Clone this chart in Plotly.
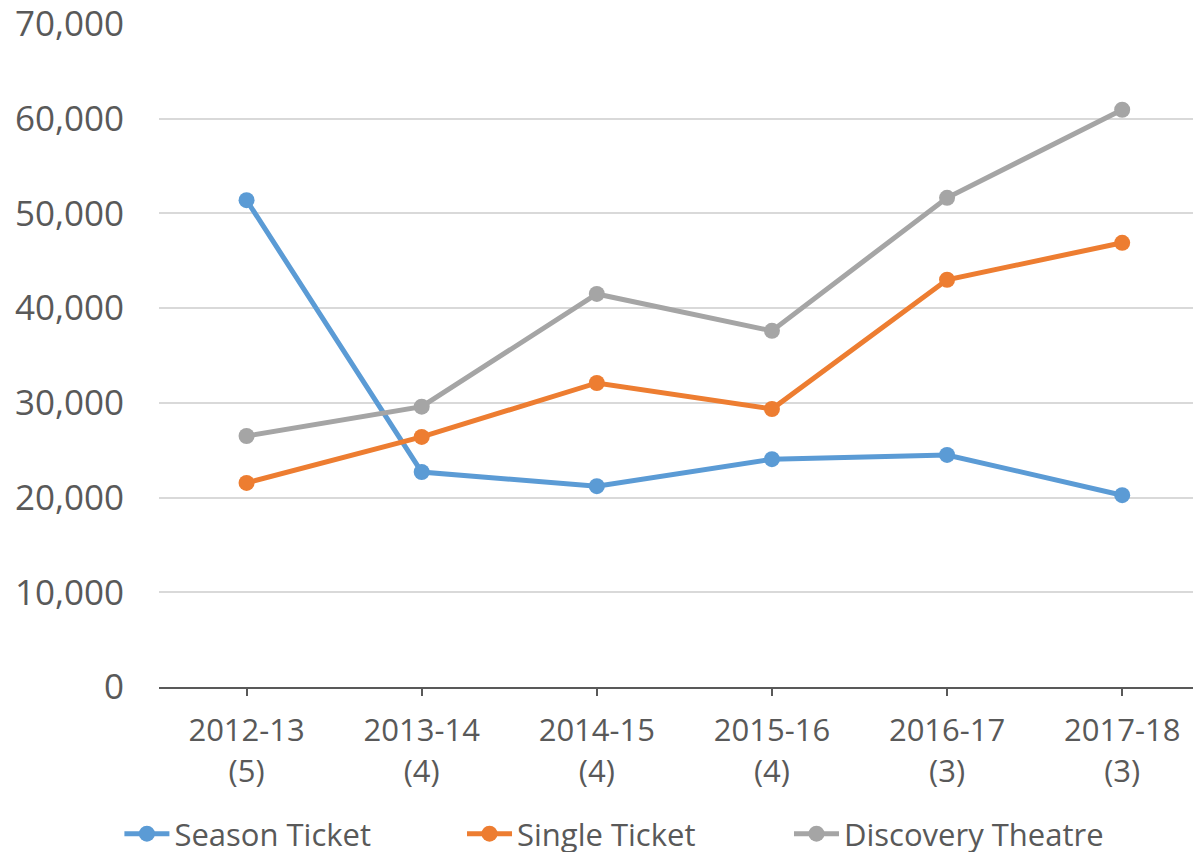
import plotly.graph_objects as go

categories = ["2012-13<br>(5)", "2013-14<br>(4)", "2014-15<br>(4)", "2015-16<br>(4)", "2016-17<br>(3)", "2017-18<br>(3)"]
season_ticket = [51400, 22700, 21200, 24050, 24500, 20250]
single_ticket = [21550, 26400, 32100, 29350, 43000, 46900]
discovery_theatre = [26500, 29600, 41500, 37600, 51650, 60950]
y_ticks = [0, 10000, 20000, 30000, 40000, 50000, 60000, 70000]

series = [
    ("Season Ticket", season_ticket, "#5B9BD5", "legend", -0.038),
    ("Single Ticket", single_ticket, "#ED7D31", "legend2", 0.2908),
    ("Discovery Theatre", discovery_theatre, "#A5A5A5", "legend3", 0.6046),
]

fig = go.Figure()
legend_layouts = {}
for name, vals, color, leg, lx in series:
    fig.add_trace(go.Scatter(
        x=categories, y=vals, name=name, mode="lines+markers",
        line=dict(color=color, width=5),
        marker=dict(color=color, size=16),
        legend=leg,
    ))
    legend_layouts[leg] = dict(
        orientation="h", x=lx, xanchor="left", y=-0.181, yanchor="top",
        font=dict(size=31, color="#595959", family="Open Sans"),
        itemwidth=45, bgcolor="rgba(0,0,0,0)",
    )

fig.update_layout(
    width=1193, height=844,
    margin=dict(l=151, r=0, t=16, b=165, autoexpand=False),
    paper_bgcolor="white", plot_bgcolor="white",
    font=dict(family="Open Sans", color="#595959"),
    showlegend=True,
    xaxis=dict(
        type="category", range=[-0.5, 5.45],
        showgrid=False, showline=True, linecolor="#595959", linewidth=2,
        ticks="outside", ticklen=7, tickwidth=2, tickcolor="#595959",
        tickfont=dict(size=31, color="#595959"), ticklabelstandoff=8,
    ),
    yaxis=dict(
        range=[0, 70000], tickvals=y_ticks, tickformat=",",
        showgrid=True, gridcolor="#D9D9D9", gridwidth=1.5,
        zeroline=False, showline=False, ticklabeloverflow="allow",
        tickfont=dict(size=35, color="#595959"), ticklabelstandoff=34,
    ),
    **legend_layouts,
)

fig.write_html("out.html")
